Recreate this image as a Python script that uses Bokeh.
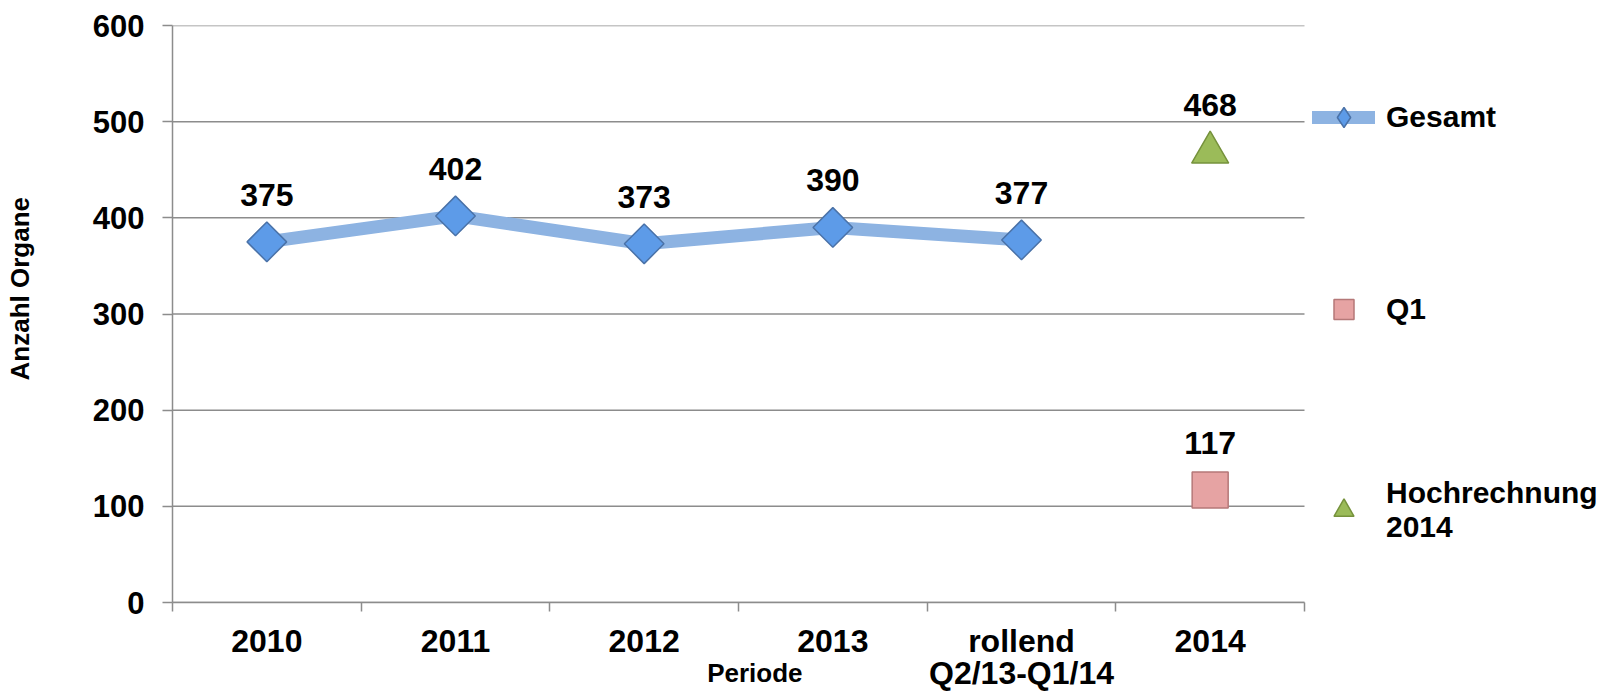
import numpy as np
from bokeh.plotting import figure
from bokeh.models import Range1d, FixedTicker, Legend, LegendItem
from bokeh.core.properties import value
from bokeh.embed import file_html
from bokeh.resources import INLINE

# ---- data ----
periods = ["2010", "2011", "2012", "2013", "rollend\nQ2/13-Q1/14", "2014"]
gesamt_periods = ["2010", "2011", "2012", "2013", "rollend\nQ2/13-Q1/14"]
gesamt = [375, 402, 373, 390, 377]
q1_periods = ["2014"]
q1 = [117]
hoch_periods = ["2014"]
hochrechnung = [468]
y_ticks = [0, 100, 200, 300, 400, 500, 600]
y_title = "Anzahl Organe"
x_title = "Periode"

FONT = "Liberation Sans"
GRID = "#8C8C8C"
NBSP = "\u00a0"

# layout (pixels): axis area spans 172..1304, frame continues to the right edge for the legend
W, H = 1604, 691
LEFT, AXIS_RIGHT, TOP, BOTTOM = 172, 1304, 25, 89
n = len(periods)
x_end = n * (W - LEFT) / (AXIS_RIGHT - LEFT)

pos = {c: i + 0.5 for i, c in enumerate(periods)}

p = figure(width=W, height=H, output_backend="svg", toolbar_location=None,
           x_range=Range1d(0, x_end), y_range=Range1d(0, 600),
           min_border_left=LEFT, min_border_right=0, min_border_top=TOP, min_border_bottom=BOTTOM)
p.outline_line_color = None
p.background_fill_color = "white"
p.xgrid.visible = False
p.ygrid.visible = False

# horizontal grid lines, limited to the category area
p.segment(x0=[0] * len(y_ticks), x1=[n] * len(y_ticks), y0=y_ticks, y1=y_ticks,
          line_color=GRID, line_width=1.5)

yax = p.yaxis[0]
yax.ticker = FixedTicker(ticks=y_ticks)
yax.axis_line_color = GRID
yax.axis_line_width = 1.5
yax.major_tick_line_color = GRID
yax.major_tick_line_width = 1.5
yax.major_tick_out = 10
yax.major_tick_in = 0
yax.minor_tick_line_color = None
yax.major_label_standoff = 18
yax.major_label_text_font = FONT
yax.major_label_text_font_style = "bold"
yax.major_label_text_font_size = "31px"
yax.major_label_text_color = "black"
# leading no-break spaces shift the rotated title upwards, as in the original
yax.axis_label = NBSP * 7 + y_title
yax.axis_label_standoff = 55
yax.axis_label_text_font = FONT
yax.axis_label_text_font_style = "bold"
yax.axis_label_text_font_size = "26px"
yax.axis_label_text_color = "black"

xax = p.xaxis[0]
xax.bounds = (0, n)
xax.ticker = FixedTicker(ticks=[pos[c] for c in periods], minor_ticks=list(range(n + 1)))
xax.major_label_overrides = {pos[c]: c for c in periods}
xax.axis_line_color = GRID
xax.axis_line_width = 1.5
xax.major_tick_line_color = None
xax.major_tick_out = 0
xax.major_tick_in = 0
xax.minor_tick_line_color = GRID
xax.minor_tick_line_width = 1.5
xax.minor_tick_out = 9
xax.minor_tick_in = 0
xax.major_label_standoff = 11
xax.major_label_text_font = FONT
xax.major_label_text_font_style = "bold"
xax.major_label_text_font_size = "32px"
xax.major_label_text_color = "black"
xax.major_label_text_line_height = 0.9
# trailing no-break spaces move the centred title left, under the category area
xax.axis_label = x_title + NBSP * 37
xax.axis_label_standoff = -36
xax.axis_label_text_font = FONT
xax.axis_label_text_font_style = "bold"
xax.axis_label_text_font_size = "26px"
xax.axis_label_text_color = "black"

# series
gx = [pos[c] for c in gesamt_periods]
line_r = p.line(gx, gesamt, line_color="#8DB3E2", line_width=13, line_cap="round", line_join="round")
# diamond used for the legend symbol (fully covered by the rotated squares below)
dia_leg = p.scatter(gx, gesamt, marker="diamond", size=26,
                    fill_color="#5D9BE8", line_color="#4A72A8", line_width=1.5)
dia_r = p.scatter(gx, gesamt, marker="square", angle=np.pi / 4, size=28,
                  fill_color="#5D9BE8", line_color="#4A72A8", line_width=1.5)
q_r = p.scatter([pos[c] for c in q1_periods], q1, marker="square", size=36,
                fill_color="#E6A3A3", line_color="#B57878", line_width=1.5)
h_r = p.scatter([pos[c] for c in hoch_periods], hochrechnung, marker="triangle", size=37,
                fill_color="#9BBB59", line_color="#76923C", line_width=1.5)

# data labels
lab_x = gx + [pos[c] for c in q1_periods] + [pos[c] for c in hoch_periods]
lab_y = gesamt + q1 + hochrechnung
p.text(lab_x, lab_y, text=[str(v) for v in lab_y], text_align="center", text_baseline="middle",
       y_offset=-47, text_font=value(FONT), text_font_style="bold", text_font_size="32px",
       text_color="black")

# legend
legend = Legend(items=[
    LegendItem(label="Gesamt", renderers=[line_r, dia_leg]),
    LegendItem(label="Q1", renderers=[q_r]),
    LegendItem(label="Hochrechnung\n2014", renderers=[h_r]),
], location=(1140, 58), orientation="vertical", spacing=142,
    glyph_width=63, glyph_height=50, label_standoff=11, padding=0, margin=0,
    border_line_color=None, background_fill_alpha=0,
    label_text_font=FONT, label_text_font_style="bold", label_text_font_size="30px",
    label_text_color="black")
p.add_layout(legend)

open("out.html", "w").write(file_html(p, INLINE))
